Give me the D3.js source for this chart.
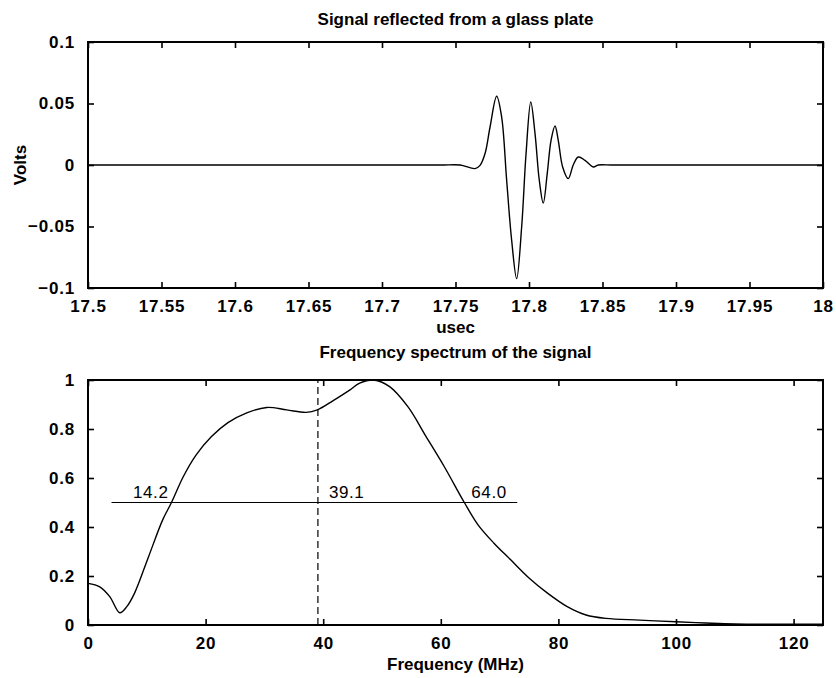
<!DOCTYPE html>
<html>
<head>
<meta charset="utf-8">
<script src="https://cdn.jsdelivr.net/npm/d3@7"></script>
<style>
  html, body { margin: 0; padding: 0; background: #fff; }
  svg { display: block; }
  text { font-family: "Liberation Sans", Arial, Helvetica, sans-serif; fill: #000; }
</style>
</head>
<body>
<svg id="chart" width="836" height="678"></svg>
<script>
// ---------------- data ----------------
const signalTime = [17.5, 17.6, 17.7, 17.74, 17.7531, 17.7633, 17.7667, 17.7701, 17.7735, 17.778, 17.7814,
  17.7848, 17.7882, 17.7916, 17.795, 17.798, 17.8012, 17.8041, 17.807, 17.8097, 17.8124,
  17.815, 17.8177, 17.8199, 17.8229, 17.8267, 17.8301, 17.8335, 17.8381, 17.8437, 17.8471, 17.856, 17.87, 17.9, 18.0];
const signalVolts = [0, 0, 0, 0, 0, -0.0029, -0.0003, 0.0093, 0.0309, 0.0559, 0.039,
  -0.0124, -0.0612, -0.0924, -0.0504, 0.0093, 0.0512, 0.0255, -0.0124, -0.0309, -0.007,
  0.0201, 0.0317, 0.0201, -0.0016, -0.0111, 0, 0.0065, 0.0038, -0.0016, 0, 0, 0, 0, 0];

const freqMHz = [0, 2.0, 3.7, 5.4, 6.6, 7.9, 10.3, 12.7, 14.2, 16.2, 18.4, 21.0, 23.8, 27.0, 30.4,
  33.8, 37.1, 39.0, 41.7, 44.5, 46.2, 48.6, 51.3, 54.4, 57.5, 60.6, 64.0, 66.3, 69.0, 71.8,
  75.0, 78.2, 81.5, 84.7, 88.1, 93.8, 100, 105, 110, 118, 125];
const spectrum = [0.170, 0.156, 0.116, 0.050, 0.075, 0.129, 0.279, 0.429, 0.500, 0.605, 0.694, 0.769, 0.826, 0.866, 0.888,
  0.878, 0.868, 0.878, 0.916, 0.959, 0.987, 1.0, 0.973, 0.891, 0.769, 0.646, 0.500, 0.410, 0.335, 0.268,
  0.192, 0.129, 0.075, 0.041, 0.027, 0.020, 0.013, 0.008, 0.004, 0.003, 0.003];

const halfLevel = 0.5;
const halfLineRange = [4, 73];
const centreFreq = 39.1;
const markerValues = [14.2, 39.1, 64.0];
const markerLabels = ["14.2", "39.1", "64.0"];

const timeTicks = [17.5, 17.55, 17.6, 17.65, 17.7, 17.75, 17.8, 17.85, 17.9, 17.95, 18];
const timeTickLabels = ["17.5", "17.55", "17.6", "17.65", "17.7", "17.75", "17.8", "17.85", "17.9", "17.95", "18"];
const voltTicks = [-0.1, -0.05, 0, 0.05, 0.1];
const voltTickLabels = ["\u22120.1", "\u22120.05", "0", "0.05", "0.1"];
const freqTicks = [0, 20, 40, 60, 80, 100, 120];
const freqTickLabels = ["0", "20", "40", "60", "80", "100", "120"];
const ampTicks = [0, 0.2, 0.4, 0.6, 0.8, 1];
const ampTickLabels = ["0", "0.2", "0.4", "0.6", "0.8", "1"];

const titles = ["Signal reflected from a glass plate", "Frequency spectrum of the signal"];
const xLabels = ["usec", "Frequency (MHz)"];
const yLabels = ["Volts", ""];

// ---------------- layout ----------------
const svg = d3.select("#chart");
const L = 88, R = 823;
const panels = [
  { top: 42, bottom: 288, titleGap: 17, xDom: [17.5, 18], yDom: [-0.1, 0.1],
    xT: timeTicks, xTL: timeTickLabels, yT: voltTicks, yTL: voltTickLabels,
    xs: signalTime, ys: signalVolts, title: titles[0], xl: xLabels[0], yl: yLabels[0] },
  { top: 380, bottom: 625, titleGap: 22, xDom: [0, 125], yDom: [0, 1],
    xT: freqTicks, xTL: freqTickLabels, yT: ampTicks, yTL: ampTickLabels,
    xs: freqMHz, ys: spectrum, title: titles[1], xl: xLabels[1], yl: yLabels[1] }
];
const tickLen = 6;
const labelDx = [-3, 11, 7];
const labelAnchor = ["end", "start", "start"];

panels.forEach((p, pi) => {
  const x = d3.scaleLinear().domain(p.xDom).range([L, R]);
  const y = d3.scaleLinear().domain(p.yDom).range([p.bottom, p.top]);
  const g = svg.append("g");

  // curve
  const line = d3.line().x((d, i) => x(p.xs[i])).y((d, i) => y(p.ys[i]))
    .curve(d3.curveCatmullRom.alpha(0.5));
  g.append("path").datum(p.ys).attr("d", line)
    .attr("fill", "none").attr("stroke", "#000").attr("stroke-width", 1.4)
    .attr("stroke-linejoin", "round");

  if (pi === 1) {
    g.append("line")
      .attr("x1", x(halfLineRange[0])).attr("x2", x(halfLineRange[1]))
      .attr("y1", y(halfLevel)).attr("y2", y(halfLevel))
      .attr("stroke", "#000").attr("stroke-width", 1.2);
    g.append("line")
      .attr("x1", x(centreFreq)).attr("x2", x(centreFreq))
      .attr("y1", y(0)).attr("y2", y(1))
      .attr("stroke", "#000").attr("stroke-width", 1.2)
      .attr("stroke-dasharray", "7,4");
    markerValues.forEach((m, i) => {
      g.append("text")
        .attr("x", x(m) + labelDx[i]).attr("y", y(halfLevel) - 5)
        .attr("text-anchor", labelAnchor[i])
        .attr("font-size", 17).attr("letter-spacing", "0.6px")
        .text(markerLabels[i]);
    });
  }

  // axes with inward ticks on four sides
  const axB = d3.axisBottom(x).tickValues(p.xT).tickSizeInner(-tickLen).tickSizeOuter(0)
    .tickFormat((d, i) => p.xTL[i]).tickPadding(tickLen + 6);
  const axT = d3.axisTop(x).tickValues(p.xT).tickSizeInner(-tickLen).tickSizeOuter(0).tickFormat("");
  const axL = d3.axisLeft(y).tickValues(p.yT).tickSizeInner(-tickLen).tickSizeOuter(0)
    .tickFormat((d, i) => p.yTL[i]).tickPadding(tickLen + 7);
  const axR = d3.axisRight(y).tickValues(p.yT).tickSizeInner(-tickLen).tickSizeOuter(0).tickFormat("");

  const gb = g.append("g").attr("transform", `translate(0,${p.bottom})`).call(axB);
  const gt = g.append("g").attr("transform", `translate(0,${p.top})`).call(axT);
  const gl = g.append("g").attr("transform", `translate(${L},0)`).call(axL);
  const gr = g.append("g").attr("transform", `translate(${R},0)`).call(axR);
  [gb, gt, gl, gr].forEach(a => {
    a.select(".domain").remove();
    a.selectAll(".tick line").attr("stroke", "#000").attr("stroke-width", 1.6);
    a.selectAll(".tick text").attr("font-family", "Liberation Sans, Arial, sans-serif")
      .attr("font-size", 17).attr("font-weight", "bold").attr("letter-spacing", "0.8px").attr("fill", "#000");
  });
  gb.selectAll(".tick text").attr("dy", "0.71em");

  // frame
  g.append("rect").attr("x", L).attr("y", p.top).attr("width", R - L).attr("height", p.bottom - p.top)
    .attr("fill", "none").attr("stroke", "#000").attr("stroke-width", 2);

  // titles and labels
  g.append("text").attr("x", (L + R) / 2).attr("y", p.top - p.titleGap)
    .attr("text-anchor", "middle").attr("font-size", 17).attr("font-weight", "bold")
    .text(p.title);
  g.append("text").attr("x", (L + R) / 2).attr("y", p.bottom + 45)
    .attr("text-anchor", "middle").attr("font-size", 17).attr("font-weight", "bold")
    .text(p.xl);
  if (p.yl) {
    g.append("text")
      .attr("transform", `translate(26,${(p.top + p.bottom) / 2}) rotate(-90)`)
      .attr("text-anchor", "middle").attr("font-size", 17).attr("font-weight", "bold")
      .text(p.yl);
  }
});
</script>
</body>
</html>
